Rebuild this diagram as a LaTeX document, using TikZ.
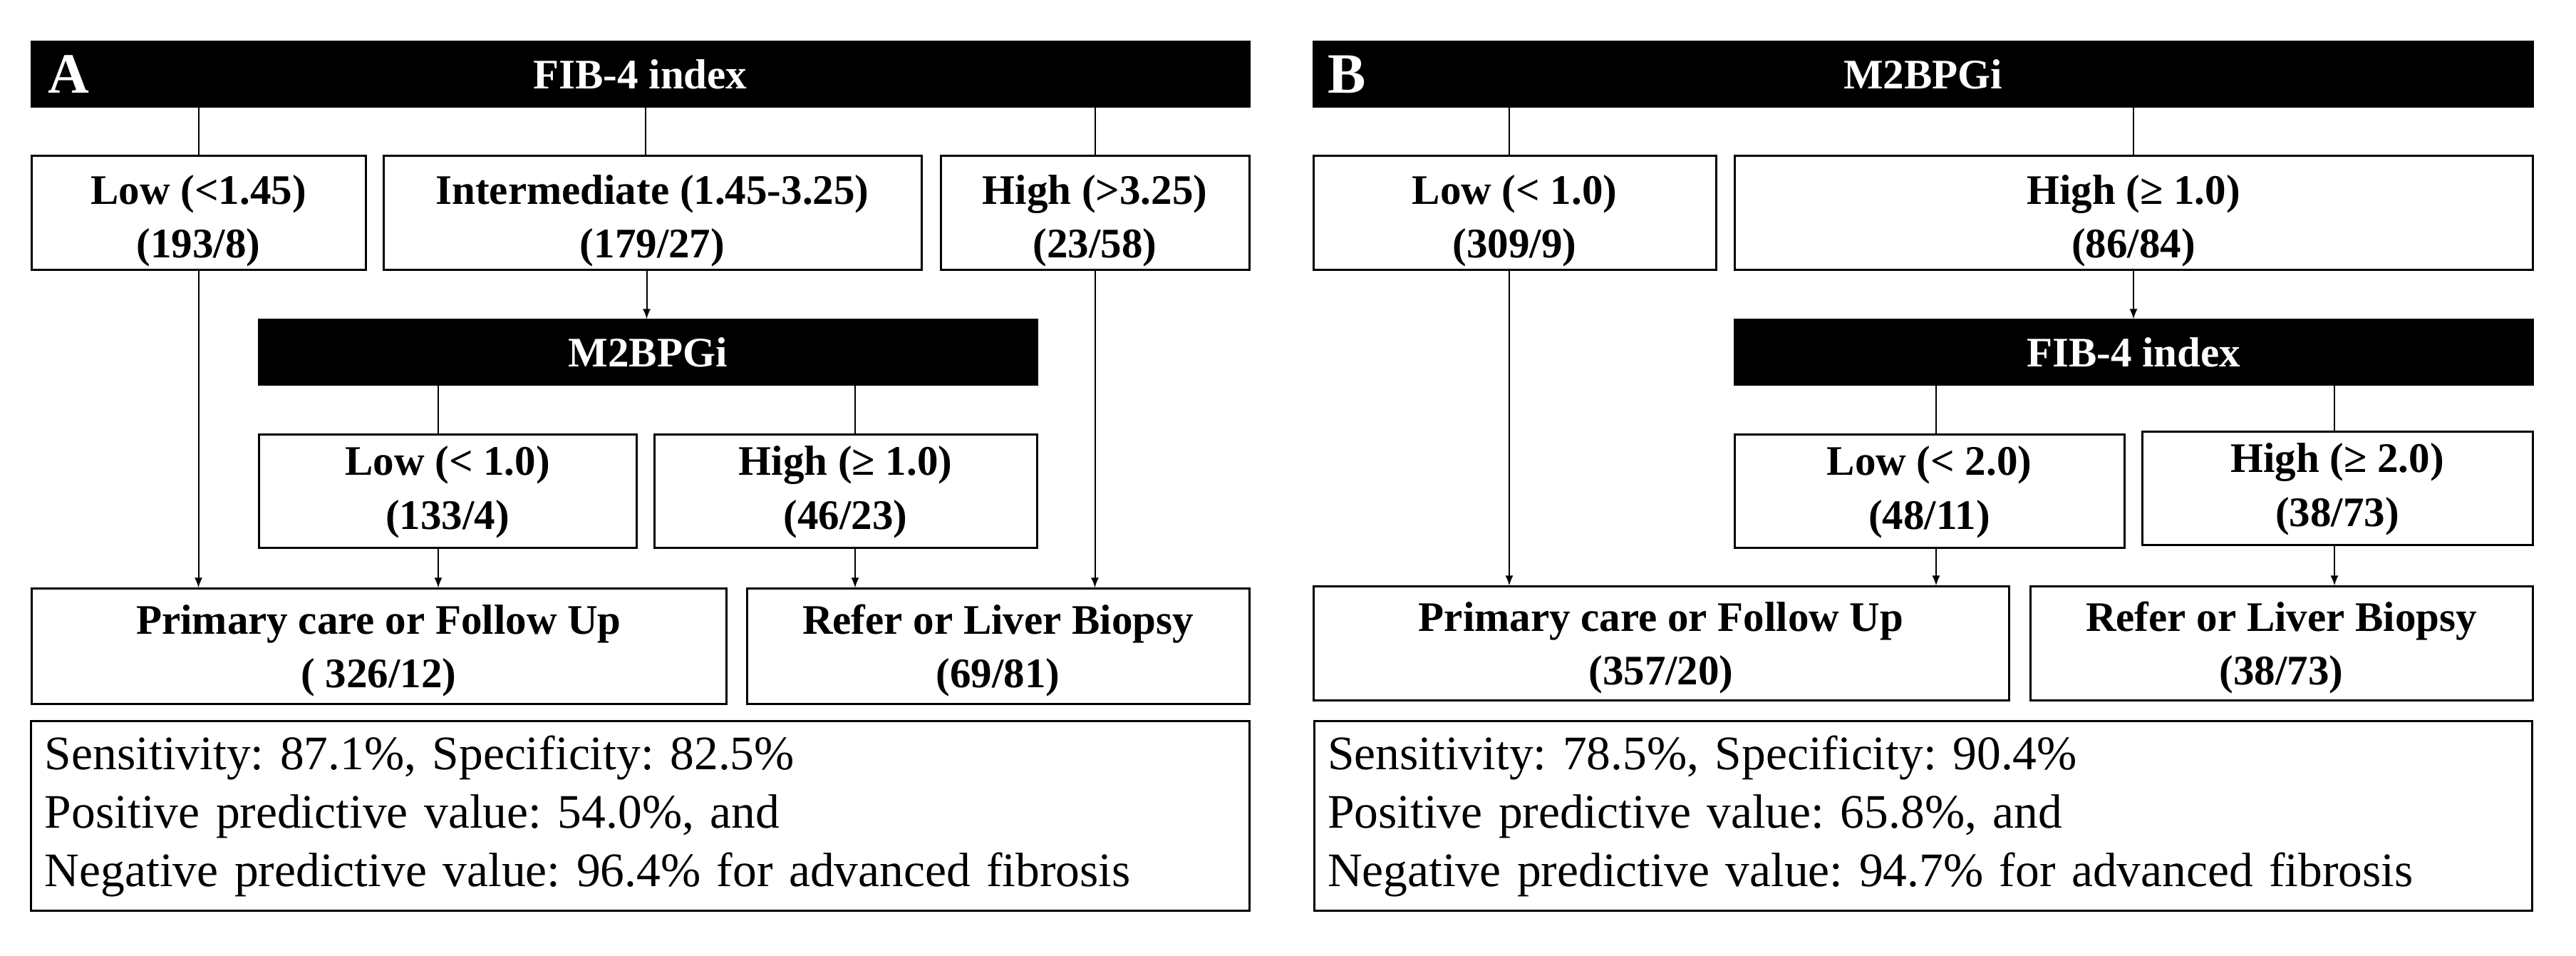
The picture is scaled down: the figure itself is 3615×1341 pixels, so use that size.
\documentclass[tikz,border=0pt]{standalone}
\usepackage{fontspec}
\setmainfont{Liberation Serif}
\usetikzlibrary{arrows.meta}
\newcommand\twoln[2]{\begin{tabular}[t]{@{}c@{}}#1\\#2\end{tabular}}
\begin{document}
\frenchspacing
\begin{tikzpicture}[x=0.2pt,y=-0.2pt,
  base/.style 2 args={draw=black, line width=0.6pt, fill=white, inner sep=0pt,
    minimum width=#1*0.2pt, minimum height=#2*0.2pt, align=center,
    font=\bfseries\fontsize{11.8}{15.1}\selectfont},
  bx/.style 2 args={base={#1}{#2}, text height=10.57pt, text depth=19.63pt},
  lowtwo/.style={text height=12.57pt, text depth=17.63pt},
  lowone/.style={text height=11.57pt, text depth=18.63pt},
  hbar/.style 2 args={base={#1}{#2}, fill=black, text=white},
  lbl/.style={text=white, anchor=west, inner sep=0pt, font=\bfseries\fontsize{16}{16}\selectfont},
  stat/.style={draw=black, line width=0.6pt, inner xsep=3.8pt, inner ysep=0pt,
    minimum width=341.8pt, minimum height=53.2pt, text width=334.2pt, align=left,
    font=\fontsize{13.5}{16.4}\selectfont},
  ln/.style={line width=0.4pt},
  ar/.style={ln, -{Latex[length=2.8pt,width=2.2pt]}}
]
\fill[white] (0,0) rectangle (3615,1341);
\useasboundingbox (0,0) rectangle (3615,1341);

% ---------- Panel A ----------
\node[hbar={1709}{91}] (barA) at (898.5,104.5) {FIB-4 index};
\node[lbl] (labA) at (66,104.5) {A};
\node[bx={469}{160}, lowtwo] (lowA) at (278.5,299) {\twoln{Low (<1.45)}{(193/8)}};
\node[bx={755}{160}, lowtwo] (intA) at (915.5,299) {\twoln{Intermediate (1.45-3.25)}{(179/27)}};
\node[bx={433}{160}, lowtwo] (highA) at (1536.5,299) {\twoln{High (>3.25)}{(23/58)}};
\node[hbar={1092}{91}] (m2A) at (909,494.5) {M2BPGi};
\node[bx={530}{159}] (lowmA) at (628,689.5) {\twoln{Low (< 1.0)}{(133/4)}};
\node[bx={537}{159}] (highmA) at (1186.5,689.5) {\twoln{High (≥ 1.0)}{(46/23)}};
\node[bx={975}{162}, lowone] (primA) at (531.5,907) {\twoln{Primary care or Follow Up}{( 326/12)}};
\node[bx={705}{162}, lowone] (refA) at (1400.5,907) {\twoln{Refer or Liver Biopsy}{(69/81)}};
\node[stat] (statA) at (898.5,1145) {Sensitivity: 87.1\%, Specificity: 82.5\%\\Positive predictive value: 54.0\%, and\\Negative predictive value: 96.4\% for advanced fibrosis};

\draw[ln] (barA.south -| lowA.north) -- (lowA.north);
\draw[ln] ([xshift=-2pt]intA.north |- barA.south) -- ([xshift=-2pt]intA.north);
\draw[ln] (barA.south -| highA.north) -- (highA.north);
\draw[ar] ([xshift=-1.6pt]intA.south) -- ([xshift=-1.6pt]intA.south |- m2A.north);
\draw[ln] ([xshift=-2.6pt]lowmA.north |- m2A.south) -- ([xshift=-2.6pt]lowmA.north);
\draw[ln] ([xshift=2.7pt]highmA.north |- m2A.south) -- ([xshift=2.7pt]highmA.north);
\draw[ar] (lowA.south) -- (lowA.south |- primA.north);
\draw[ar] ([xshift=-2.6pt]lowmA.south) -- ([xshift=-2.6pt]lowmA.south |- primA.north);
\draw[ar] ([xshift=2.7pt]highmA.south) -- ([xshift=2.7pt]highmA.south |- refA.north);
\draw[ar] (highA.south) -- (highA.south |- refA.north);

% ---------- Panel B ----------
\node[hbar={1711}{91}] (barB) at (2698.5,104.5) {M2BPGi};
\node[lbl] (labB) at (1862,104.5) {B};
\node[bx={565}{160}, lowtwo] (lowB) at (2125.5,299) {\twoln{Low (< 1.0)}{(309/9)}};
\node[bx={1120}{160}, lowtwo] (highB) at (2994,299) {\twoln{High (≥ 1.0)}{(86/84)}};
\node[hbar={1120}{91}] (fibB) at (2994,494.5) {FIB-4 index};
\node[bx={547}{159}] (lowfB) at (2707.5,689.5) {\twoln{Low (< 2.0)}{(48/11)}};
\node[bx={548}{159}] (highfB) at (3280,685.5) {\twoln{High (≥ 2.0)}{(38/73)}};
\node[bx={976}{160}, lowone] (primB) at (2331,903) {\twoln{Primary care or Follow Up}{(357/20)}};
\node[bx={705}{160}, lowone] (refB) at (3201.5,903) {\twoln{Refer or Liver Biopsy}{(38/73)}};
\node[stat] (statB) at (2698.5,1145) {Sensitivity: 78.5\%, Specificity: 90.4\%\\Positive predictive value: 65.8\%, and\\Negative predictive value: 94.7\% for advanced fibrosis};

\draw[ln] ([xshift=-1.5pt]lowB.north |- barB.south) -- ([xshift=-1.5pt]lowB.north);
\draw[ln] (barB.south -| highB.north) -- (highB.north);
\draw[ar] (highB.south) -- (fibB.north);
\draw[ln] ([xshift=1.9pt]lowfB.north |- fibB.south) -- ([xshift=1.9pt]lowfB.north);
\draw[ln] ([xshift=-0.8pt]highfB.north |- fibB.south) -- ([xshift=-0.8pt]highfB.north);
\draw[ar] ([xshift=-1.5pt]lowB.south) -- ([xshift=-1.5pt]lowB.south |- primB.north);
\draw[ar] ([xshift=1.9pt]lowfB.south) -- ([xshift=1.9pt]lowfB.south |- primB.north);
\draw[ar] ([xshift=-0.8pt]highfB.south) -- ([xshift=-0.8pt]highfB.south |- refB.north);
\end{tikzpicture}
\end{document}
